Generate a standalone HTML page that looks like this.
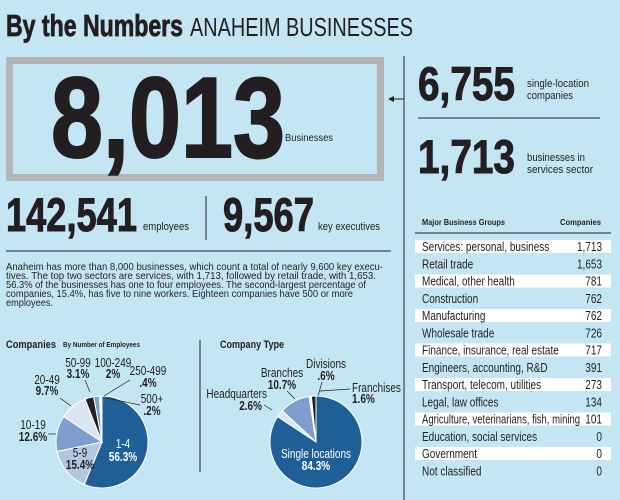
<!DOCTYPE html>
<html><head><meta charset="utf-8"><style>
html,body{margin:0;padding:0;background:#c4e6f4;}
svg{display:block}
text{font-family:"Liberation Sans Narrow","Liberation Sans",sans-serif;fill:#231f20}
.b{font-weight:bold}
</style></head><body>
<svg id="svg" width="620" height="500" viewBox="0 0 620 500" xmlns="http://www.w3.org/2000/svg">
<rect width="620" height="500" fill="#c4e6f4"/>
<text x="6" y="36" class="b" font-size="31" textLength="177" lengthAdjust="spacingAndGlyphs" stroke="#231f20" stroke-width="0.8">By the Numbers</text>
<text x="190" y="36" font-size="26" textLength="223" lengthAdjust="spacingAndGlyphs">ANAHEIM BUSINESSES</text>
<rect x="9.5" y="60.5" width="371" height="117" fill="none" stroke="#b3b6b8" stroke-width="7"/>
<text x="51" y="157" class="b" font-size="114" textLength="234" lengthAdjust="spacingAndGlyphs" stroke="#231f20" stroke-width="2">8,013</text>
<text x="285" y="141" font-size="10" textLength="48" lengthAdjust="spacingAndGlyphs">Businesses</text>
<line x1="404" y1="56" x2="404" y2="500" stroke="#231f20" stroke-width="1"/>
<line x1="391" y1="99" x2="404" y2="99" stroke="#231f20" stroke-width="1"/>
<path d="M388 99 L394 96 L394 102 Z" fill="#231f20"/>
<text x="418" y="100" class="b" font-size="47" textLength="97" lengthAdjust="spacingAndGlyphs" stroke="#231f20" stroke-width="1">6,755</text>
<text x="527" y="87" font-size="11" textLength="62" lengthAdjust="spacingAndGlyphs">single-location</text>
<text x="527" y="99" font-size="11" textLength="46" lengthAdjust="spacingAndGlyphs">companies</text>
<line x1="418" y1="118" x2="600" y2="118" stroke="#231f20"/>
<text x="418" y="173" class="b" font-size="47" textLength="97" lengthAdjust="spacingAndGlyphs" stroke="#231f20" stroke-width="1">1,713</text>
<text x="527" y="161" font-size="11" textLength="58" lengthAdjust="spacingAndGlyphs">businesses in</text>
<text x="527" y="173" font-size="11" textLength="66" lengthAdjust="spacingAndGlyphs">services sector</text>
<text x="6" y="231" class="b" font-size="47" textLength="131" lengthAdjust="spacingAndGlyphs" stroke="#231f20" stroke-width="1">142,541</text>
<text x="143" y="230" font-size="11" textLength="46" lengthAdjust="spacingAndGlyphs">employees</text>
<line x1="206" y1="196" x2="206" y2="240" stroke="#231f20"/>
<text x="223" y="231" class="b" font-size="47" textLength="91" lengthAdjust="spacingAndGlyphs" stroke="#231f20" stroke-width="1">9,567</text>
<text x="318" y="230" font-size="11" textLength="62" lengthAdjust="spacingAndGlyphs">key executives</text>
<line x1="6" y1="251" x2="391" y2="251" stroke="#231f20"/>
<g font-size="10.5">
<text x="6" y="270" textLength="377" lengthAdjust="spacingAndGlyphs">Anaheim has more than 8,000 businesses, which count a total of nearly 9,600 key execu-</text>
<text x="6" y="279" textLength="370" lengthAdjust="spacingAndGlyphs">tives. The top two sectors are services, with 1,713, followed by retail trade, with 1,653.</text>
<text x="6" y="288" textLength="360" lengthAdjust="spacingAndGlyphs">56.3% of the businesses has one to four employees. The second-largest percentage of</text>
<text x="6" y="297" textLength="347" lengthAdjust="spacingAndGlyphs">companies, 15.4%, has five to nine workers. Eighteen companies have 500 or more</text>
<text x="6" y="306" textLength="47" lengthAdjust="spacingAndGlyphs">employees.</text>
</g>
<text x="6" y="348" class="b" font-size="11" textLength="50" lengthAdjust="spacingAndGlyphs">Companies</text>
<text x="63" y="347" class="b" font-size="7" textLength="77" lengthAdjust="spacingAndGlyphs">By Number of Employees</text>
<text x="220" y="348" class="b" font-size="11" textLength="64" lengthAdjust="spacingAndGlyphs">Company Type</text>
<line x1="200" y1="340" x2="200" y2="472" stroke="#231f20"/>
<g id="p1"></g><g id="p2"></g>
<g stroke="#231f20" stroke-width="0.7" fill="none">
<line x1="60" y1="398" x2="71" y2="406"/>
<line x1="48" y1="434" x2="56" y2="434"/>
<line x1="85" y1="380" x2="90" y2="392"/>
<line x1="130" y1="380" x2="104" y2="396"/>
<line x1="140" y1="405" x2="106" y2="398"/>
<line x1="264" y1="405" x2="272" y2="410"/>
<line x1="287" y1="391" x2="295" y2="399"/>
<line x1="322" y1="382" x2="318" y2="396"/>
<line x1="350" y1="389" x2="320" y2="391"/>
</g>
<g class="sq" font-size="12.5" text-anchor="middle">
<text x="123" y="448" style="fill:#fff">1-4</text>
<text x="123" y="461" class="b" style="fill:#fff">56.3%</text>
<text x="80" y="457">5-9</text>
<text x="80" y="469" class="b">15.4%</text>
<text x="33" y="429">10-19</text>
<text x="33" y="441" class="b">12.6%</text>
<text x="47" y="384">20-49</text>
<text x="47" y="395" class="b">9.7%</text>
<text x="78" y="367">50-99</text>
<text x="78" y="378" class="b">3.1%</text>
<text x="113" y="367">100-249</text>
<text x="113" y="378" class="b">2%</text>
<text x="148" y="375">250-499</text>
<text x="148" y="387" class="b">.4%</text>
<text x="152" y="403">500+</text>
<text x="152" y="415" class="b">.2%</text>
<text x="316" y="458" style="fill:#fff">Single locations</text>
<text x="316" y="470" class="b" style="fill:#fff">84.3%</text>
<text x="282" y="377">Branches</text>
<text x="282" y="389" class="b">10.7%</text>
<text x="326" y="368">Divisions</text>
<text x="326" y="380" class="b">.6%</text>
</g>
<g class="sq" font-size="12.5">
<text x="267" y="398" text-anchor="end">Headquarters</text>
<text x="262" y="410" text-anchor="end" class="b">2.6%</text>
<text x="352" y="392">Franchises</text>
<text x="352" y="403" class="b">1.6%</text>
</g>
<text x="422" y="225" class="b" font-size="8" textLength="83" lengthAdjust="spacingAndGlyphs">Major Business Groups</text>
<text x="601" y="225" class="b" font-size="8" text-anchor="end" textLength="41" lengthAdjust="spacingAndGlyphs">Companies</text>
<line x1="415" y1="233" x2="611" y2="233" stroke="#231f20"/>
<g id="tbl" font-size="12.5"></g>
</svg>
<script>
function pie(g,cx,cy,r,data){
  var a=0,ns="http://www.w3.org/2000/svg",el=document.getElementById(g);
  data.forEach(function(d){
    var a0=a*2*Math.PI/100-Math.PI/2; a+=d[0]; var a1=a*2*Math.PI/100-Math.PI/2;
    var x0=cx+r*Math.cos(a0),y0=cy+r*Math.sin(a0),x1=cx+r*Math.cos(a1),y1=cy+r*Math.sin(a1);
    var p=document.createElementNS(ns,"path");
    p.setAttribute("d","M"+cx+" "+cy+" L"+x0+" "+y0+" A"+r+" "+r+" 0 "+(d[0]>50?1:0)+" 1 "+x1+" "+y1+" Z");
    p.setAttribute("fill",d[1]);p.setAttribute("stroke","#fff");p.setAttribute("stroke-width","1");
    el.appendChild(p);
  });
}
pie("p1",102,442,46,[[56.3,"#1e5f98"],[15.4,"#b3c6e2"],[12.6,"#7e9ecf"],[9.7,"#d9e7f3"],[3.1,"#231f20"],[2,"#7e9ecf"],[0.4,"#fff"],[0.5,"#c4e6f4"]]);
pie("p2",316,442,46,[[84.3,"#1e5f98"],[2.6,"#d9e7f3"],[10.7,"#7e9ecf"],[0.8,"#fff"],[1.6,"#231f20"]]);
var rows=[["Services: personal, business","1,713"],["Retail trade","1,653"],["Medical, other health","781"],["Construction","762"],["Manufacturing","762"],["Wholesale trade","726"],["Finance, insurance, real estate","717"],["Engineers, accounting, R&D","391"],["Transport, telecom, utilities","273"],["Legal, law offices","134"],["Agriculture, veterinarians, fish, mining","101"],["Education, social services","0"],["Government","0"],["Not classified","0"]];
var ns="http://www.w3.org/2000/svg",t=document.getElementById("tbl");
rows.forEach(function(r,i){
  var y=240+i*17.25;
  if(i%2==0){var s=document.createElementNS(ns,"rect");s.setAttribute("x",415);s.setAttribute("y",y);s.setAttribute("width",196);s.setAttribute("height",13);s.setAttribute("fill","#fff");t.appendChild(s);}
  var a=document.createElementNS(ns,"text");a.setAttribute("x",422);a.setAttribute("y",y+11);a.setAttribute("class","sqt lbl");a.textContent=r[0];t.appendChild(a);
  var b=document.createElementNS(ns,"text");b.setAttribute("x",602);b.setAttribute("y",y+11);b.setAttribute("text-anchor","end");b.setAttribute("class","sqt");b.textContent=r[1];t.appendChild(b);
});
var els=document.querySelectorAll(".sq text, text.sqt");
for(var i=0;i<els.length;i++){var e=els[i];var L=e.getComputedTextLength()*0.8;
  if(e.getAttribute("class")=="sqt lbl"&&L>158)L=158;
  e.setAttribute("textLength",L.toFixed(1));e.setAttribute("lengthAdjust","spacingAndGlyphs");}
</script>
</body></html>
